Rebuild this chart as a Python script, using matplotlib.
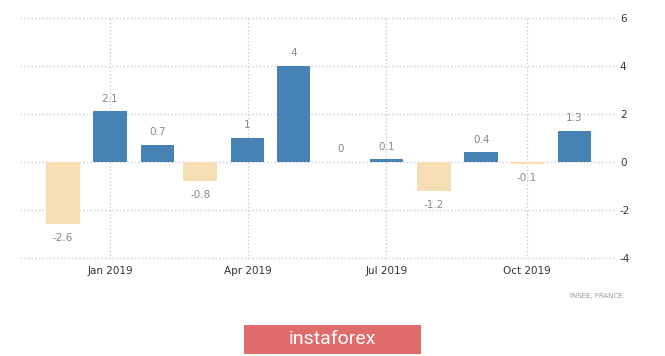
import matplotlib
matplotlib.use("Agg")
import matplotlib.pyplot as plt
import matplotlib.dates as mdates
from matplotlib.patches import Rectangle
import datetime as dt

months = ["2018-12", "2019-01", "2019-02", "2019-03", "2019-04", "2019-05",
          "2019-06", "2019-07", "2019-08", "2019-09", "2019-10", "2019-11"]
values = [-2.6, 2.1, 0.7, -0.8, 1, 4, 0, 0.1, -1.2, 0.4, -0.1, 1.3]
labels = ["-2.6", "2.1", "0.7", "-0.8", "1", "4", "0", "0.1", "-1.2", "0.4", "-0.1", "1.3"]
tick_dates = ["2019-01", "2019-04", "2019-07", "2019-10"]
tick_labels = ["Jan 2019", "Apr 2019", "Jul 2019", "Oct 2019"]
yticks = [-4, -2, 0, 2, 4, 6]

def to_date(s):
    y, m = s.split("-")
    return dt.datetime(int(y), int(m), 1)

dates = [to_date(m) for m in months]
pos_color = "#4682B4"
neg_color = "#F5DEB3"

fig = plt.figure(figsize=(6.65, 3.56), dpi=100)
ax = fig.add_axes([0.030, 0.272, 0.898, 0.682])

colors = [pos_color if v > 0 else neg_color for v in values]
ax.bar(dates, values, width=22, color=colors, align="center", zorder=3)

for d, v, lab in zip(dates, values, labels):
    if v >= 0:
        ax.annotate(lab, (d, v), xytext=(0, 9), textcoords="offset points",
                    ha="center", va="center", fontsize=7.5, color="#888888")
    else:
        ax.annotate(lab, (d, v), xytext=(0, -10), textcoords="offset points",
                    ha="center", va="center", fontsize=7.5, color="#888888")

ax.set_xlim(dt.datetime(2018, 11, 3), dt.datetime(2019, 11, 29))
ax.set_ylim(-4.05, 6.05)
ax.set_yticks(yticks)
ax.set_yticklabels([str(t) for t in yticks])
ax.yaxis.tick_right()
ax.set_xticks([to_date(t) for t in tick_dates])
ax.set_xticklabels(tick_labels)
ax.tick_params(axis="both", length=0, labelsize=7.5, colors="#333333")
ax.tick_params(axis="y", pad=2)
ax.tick_params(axis="x", pad=5)

ax.grid(True, axis="both", linestyle=":", color="#cccccc", linewidth=1, zorder=0)
for s in ax.spines.values():
    s.set_visible(False)

fig.text(0.936, 0.168, "INSEE, FRANCE", fontsize=5, color="#999999",
         ha="right", va="center")

rect = Rectangle((244 / 665, 1 - 354 / 356), (421 - 244) / 665, (354 - 325) / 356,
                 transform=fig.transFigure, facecolor="#E06B6B", edgecolor="none")
fig.patches.append(rect)
fig.text(332 / 665, 1 - 339 / 356, "instaforex", fontsize=14, color="white",
         ha="center", va="center", family="Roboto")

fig.savefig("out.png", dpi=100, facecolor="white")
